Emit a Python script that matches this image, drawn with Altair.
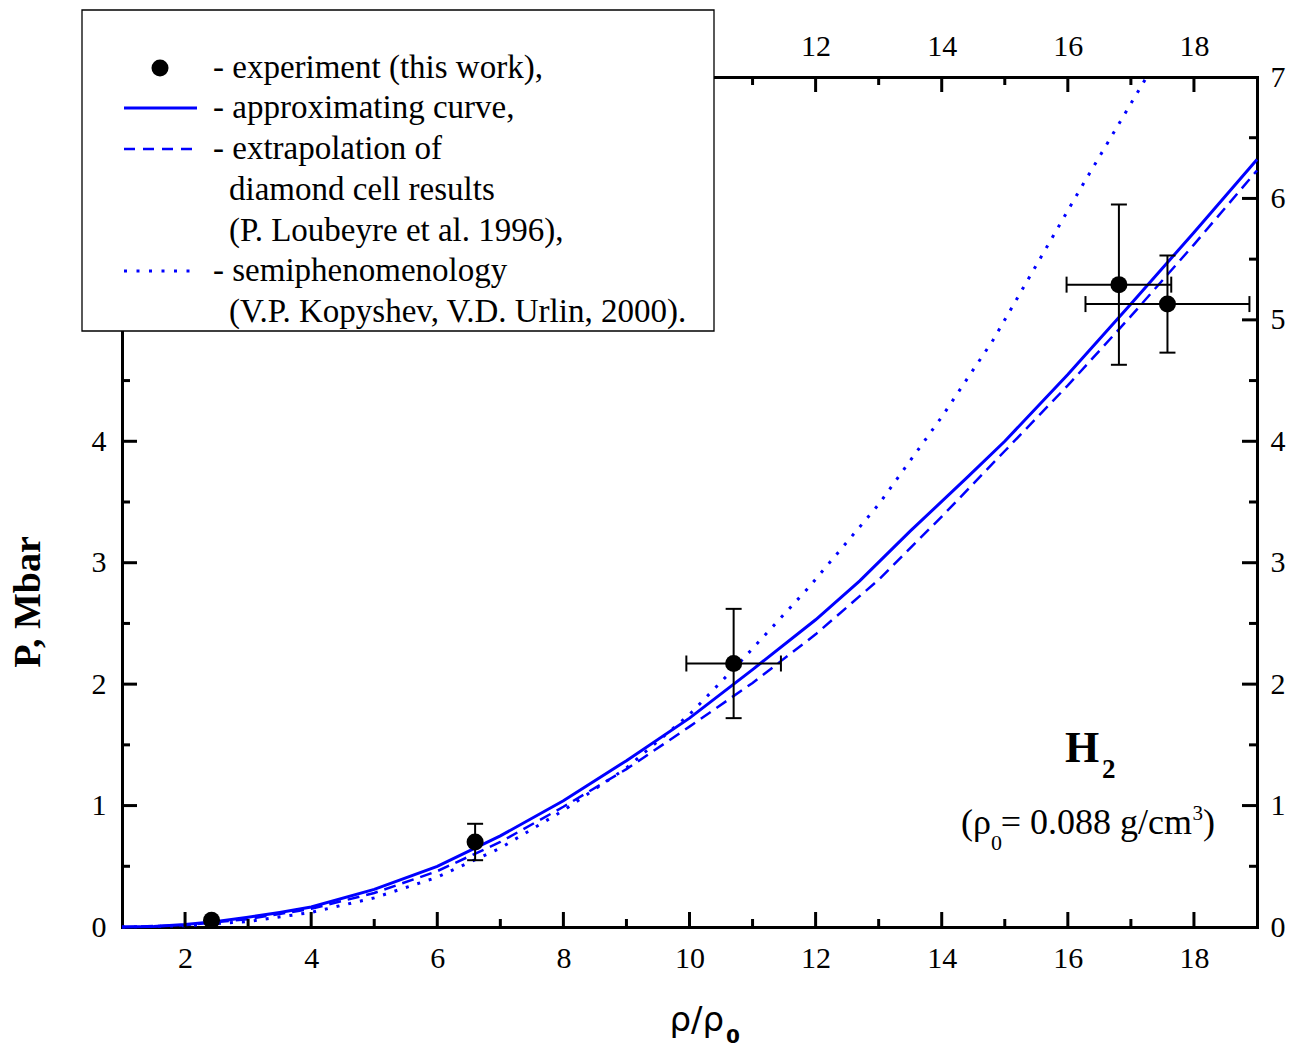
import altair as alt
import pandas as pd

# ---------------- data ----------------
exp_x = [2.42, 6.60, 10.70, 16.81, 17.58]
exp_y = [0.055, 0.70, 2.17, 5.29, 5.13]
exp_xerr = [0.0, 0.0, 0.75, 0.83, 1.30]
exp_yerr = [0.0, 0.15, 0.45, 0.66, 0.40]

approx_x = [1.0, 1.5, 2.0, 2.5, 3.0, 3.5, 4.0, 5.0, 6.0, 7.0, 8.0, 9.0, 10.0,
            11.0, 12.0, 12.7, 13.5, 14.4, 15.0, 16.0, 17.0, 18.0, 19.0]
approx_y = [0.0, 0.005, 0.02, 0.045, 0.08, 0.12, 0.165, 0.31, 0.50, 0.75, 1.04,
            1.37, 1.72, 2.12, 2.53, 2.85, 3.26, 3.70, 4.00, 4.55, 5.13, 5.72, 6.32]

loub_x = [1, 2, 3, 4, 5, 6, 7, 8, 9, 10, 11, 12, 13, 14, 15, 16, 17, 18, 19]
loub_y = [0.0, 0.015, 0.065, 0.15, 0.28, 0.46, 0.70, 0.99, 1.30, 1.65, 2.01,
          2.41, 2.86, 3.38, 3.92, 4.46, 5.03, 5.62, 6.23]

kop_x = [1, 2, 3, 4, 5, 6, 7, 8, 9, 10, 10.8, 11.88, 13, 14, 14.81, 15.5, 16.2, 17.25]
kop_y = [0.0, 0.01, 0.045, 0.12, 0.24, 0.41, 0.65, 0.96, 1.31, 1.75, 2.18, 2.79,
         3.48, 4.20, 4.83, 5.45, 6.08, 7.0]

x_major = [2, 4, 6, 8, 10, 12, 14, 16, 18]
x_minor = [3, 5, 7, 9, 11, 13, 15, 17]
y_major = [1, 2, 3, 4, 5, 6]
y_minor = [0.5, 1.5, 2.5, 3.5, 4.5, 5.5, 6.5]
bottom_labels = [2, 4, 6, 8, 10, 12, 14, 16, 18]
top_labels = [12, 14, 16, 18]
left_labels = [0, 1, 2, 3, 4]
right_labels = [0, 1, 2, 3, 4, 5, 6, 7]

legend_lines = ["- experiment (this work),", "- approximating curve,", "- extrapolation of",
                "diamond cell results", "(P. Loubeyre et al. 1996),", "- semiphenomenology",
                "(V.P. Kopyshev, V.D. Urlin, 2000)."]

# ---------------- layout ----------------
W, H = 1135, 850
BLUE = "#0000ff"
SERIF = "Liberation Serif"
xs = alt.Scale(domain=[1, 19], nice=False, zero=False)
ys = alt.Scale(domain=[0, 7], nice=False, zero=False)

exp = pd.DataFrame({"x": exp_x, "y": exp_y, "xerr": exp_xerr, "yerr": exp_yerr})
exp["xlo"] = exp.x - exp.xerr
exp["xhi"] = exp.x + exp.xerr
exp["ylo"] = exp.y - exp.yerr
exp["yhi"] = exp.y + exp.yerr
ey = exp[exp.yerr > 0]
ex = exp[exp.xerr > 0]

dummy = pd.DataFrame({"d": [0]})


def ax(orient, vals, pad):
    return alt.Axis(orient=orient, values=vals, format="d", title=None, grid=False,
                    ticks=False, tickSize=0, domain=True, domainColor="black",
                    domainWidth=3, domainCap="square", labelFont=SERIF,
                    labelFontSize=30, labelColor="black", labelPadding=pad,
                    labelOverlap=False, labelFlush=False)


def X(f, axis=None):
    return alt.X(f, type="quantitative", scale=xs, axis=axis)


def Y(f, axis=None):
    return alt.Y(f, type="quantitative", scale=ys, axis=axis)


layers = []

# curves (carry the axes)
solid = alt.Chart(pd.DataFrame({"x": approx_x, "y": approx_y})).mark_line(
    color=BLUE, strokeWidth=3).encode(
    x=X("x", ax("bottom", bottom_labels, 16)), y=Y("y", ax("left", left_labels, 16)))
dashed = alt.Chart(pd.DataFrame({"x": loub_x, "y": loub_y})).mark_line(
    color=BLUE, strokeWidth=2.5, strokeDash=[12, 7]).encode(
    x=X("x", ax("top", top_labels, 16)), y=Y("y", ax("right", right_labels, 13)))
dotted = alt.Chart(pd.DataFrame({"x": kop_x, "y": kop_y})).mark_line(
    color=BLUE, strokeWidth=3, strokeDash=[3, 9], strokeCap="butt").encode(
    x=X("x"), y=Y("y"))
layers += [solid, dashed, dotted]


# inward ticks
def xticks(vals, length, top):
    d = pd.DataFrame({"v": vals})
    if top:
        yy, yy2 = alt.value(0), alt.value(length)
    else:
        yy, yy2 = alt.value(H), alt.value(H - length)
    return alt.Chart(d).mark_rule(color="black", strokeWidth=3).encode(
        x=X("v"), y=yy, y2=yy2)


def yticks(vals, length, right):
    d = pd.DataFrame({"v": vals})
    if right:
        xx, xx2 = alt.value(W), alt.value(W - length)
    else:
        xx, xx2 = alt.value(0), alt.value(length)
    return alt.Chart(d).mark_rule(color="black", strokeWidth=3).encode(
        y=Y("v"), x=xx, x2=xx2)


for top in (False, True):
    layers.append(xticks(x_major, 15, top))
    layers.append(xticks(x_minor, 8, top))
for right in (False, True):
    layers.append(yticks(y_major, 15, right))
    layers.append(yticks(y_minor, 8, right))

# error bars
layers.append(alt.Chart(ey).mark_rule(color="black", strokeWidth=2).encode(
    x=X("x"), y=Y("ylo"), y2="yhi"))
layers.append(alt.Chart(ey).mark_tick(color="black", orient="horizontal", size=16,
                                      thickness=2, opacity=1).encode(x=X("x"), y=Y("ylo")))
layers.append(alt.Chart(ey).mark_tick(color="black", orient="horizontal", size=16,
                                      thickness=2, opacity=1).encode(x=X("x"), y=Y("yhi")))
layers.append(alt.Chart(ex).mark_rule(color="black", strokeWidth=2).encode(
    y=Y("y"), x=X("xlo"), x2="xhi"))
layers.append(alt.Chart(ex).mark_tick(color="black", orient="vertical", size=16,
                                      thickness=2, opacity=1).encode(x=X("xlo"), y=Y("y")))
layers.append(alt.Chart(ex).mark_tick(color="black", orient="vertical", size=16,
                                      thickness=2, opacity=1).encode(x=X("xhi"), y=Y("y")))

# points
layers.append(alt.Chart(exp).mark_circle(color="black", size=290, opacity=1).encode(
    x=X("x"), y=Y("y")))


def txt(s, x, y, size, font=SERIF, weight="normal", align="left",
        baseline="alphabetic", angle=0):
    return alt.Chart(dummy).mark_text(
        text=s, fontSize=size, font=font, fontWeight=weight, align=align,
        baseline=baseline, angle=angle, color="black").encode(
        x=alt.value(x), y=alt.value(y))


# legend box
layers.append(alt.Chart(dummy).mark_rect(fill="white", stroke="black", strokeWidth=1.3).encode(
    x=alt.value(-40), x2=alt.value(592), y=alt.value(-67), y2=alt.value(254)))
layers.append(alt.Chart(dummy).mark_circle(color="black", size=290, opacity=1).encode(
    x=alt.value(38), y=alt.value(-9)))
layers.append(alt.Chart(dummy).mark_rule(color=BLUE, strokeWidth=3).encode(
    x=alt.value(2), x2=alt.value(75), y=alt.value(31)))
layers.append(alt.Chart(dummy).mark_rule(color=BLUE, strokeWidth=2.5, strokeDash=[11, 8]).encode(
    x=alt.value(2), x2=alt.value(75), y=alt.value(72)))
layers.append(alt.Chart(dummy).mark_rule(color=BLUE, strokeWidth=3, strokeDash=[3, 9.5],
                                         strokeCap="butt").encode(
    x=alt.value(2), x2=alt.value(72), y=alt.value(194)))
leg_y = [-9, 31, 72, 113, 154, 194, 235]
leg_x = [91, 91, 91, 107, 107, 91, 107]
for s, lx, ly in zip(legend_lines, leg_x, leg_y):
    layers.append(txt(s, lx, ly, 33, baseline="middle"))

# annotations
layers.append(txt("H", 943, 685, 44, weight="bold"))
layers.append(txt("2", 980, 701, 27, weight="bold"))
layers.append(txt(")", 1093, 757, 36, align="right"))
layers.append(txt("3", 1081, 743, 21, align="right"))
layers.append(txt("= 0.088 g/cm", 1070, 757, 36, align="right"))
layers.append(txt("0", 880, 773, 22, align="right"))
layers.append(txt("(ρ", 869, 757, 36, align="right"))

# axis titles
layers.append(txt("P, Mbar", -93, 525, 38, weight="bold", align="center",
                  baseline="middle", angle=270))
layers.append(txt("ρ/ρ", 602, 954, 34, font="DejaVu Sans", align="right"))
layers.append(txt("0", 604, 966, 20, font="DejaVu Sans", weight="bold"))

chart = alt.layer(*layers).resolve_axis(x="independent", y="independent").properties(
    width=W, height=H, background="white",
    autosize=alt.AutoSizeParams(type="none"),
    padding={"left": 122, "top": 77, "right": 40, "bottom": 125},
).configure_view(stroke=None)

chart.save("out.html", embed_options={"renderer": "svg", "actions": False})
